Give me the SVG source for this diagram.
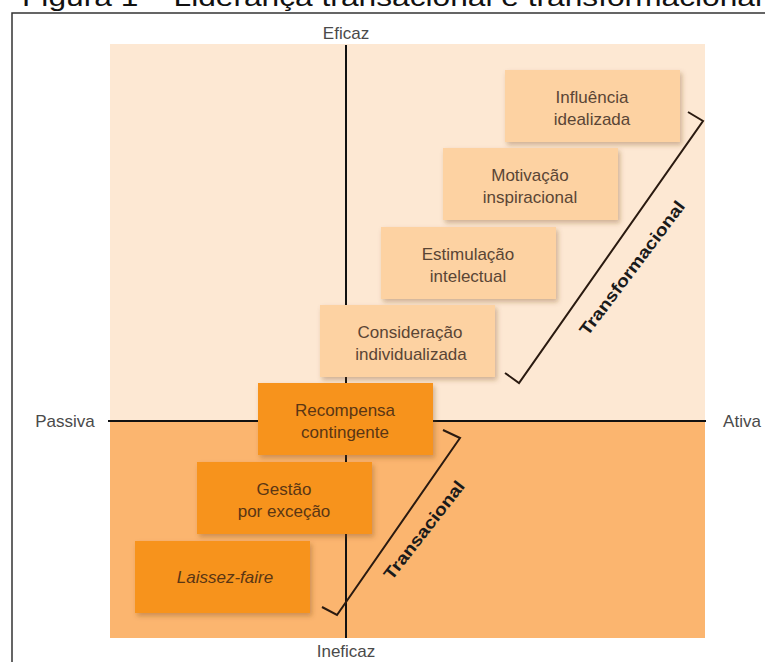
<svg xmlns="http://www.w3.org/2000/svg" width="765" height="662" viewBox="0 0 765 662">
<defs>
<style>
.lbl{font-family:"Liberation Sans",Arial,sans-serif;font-size:17px;fill:#4a4a4a;text-anchor:middle}
.bt{font-family:"Liberation Sans",Arial,sans-serif;font-size:17px;text-anchor:middle}
.top rect{fill:#fdd2a2;filter:url(#sh)}
.top text{fill:#5a4535}
.bot rect{fill:#f7931e;filter:url(#sh)}
.bot text{fill:#5a3614}
.br{fill:none;stroke:#2a1a10;stroke-width:2}
.brt{font-family:"Liberation Sans",Arial,sans-serif;font-size:17px;font-weight:bold;fill:#1a1a1a}
</style>
<filter id="sh" x="-10%" y="-10%" width="125%" height="130%">
<feDropShadow dx="2" dy="3" stdDeviation="2.5" flood-color="#7a4a1a" flood-opacity="0.35"/>
</filter>
</defs>
<rect width="765" height="662" fill="#ffffff"/>
<text x="22" y="6" font-family="'Liberation Sans',Arial,sans-serif" font-size="26" fill="#111" textLength="740" lengthAdjust="spacingAndGlyphs">Figura 1 – Liderança transacional e transformacional</text>
<path d="M12,662 V13 H765" fill="none" stroke="#333" stroke-width="1.5"/>
<rect x="110" y="44" width="595" height="377" fill="#fde8d3"/>
<rect x="110" y="421" width="595" height="217" fill="#fbb56f"/>
<line x1="108" y1="421" x2="706" y2="421" stroke="#111" stroke-width="2"/>
<line x1="346" y1="45" x2="346" y2="638" stroke="#111" stroke-width="2"/>
<text class="lbl" x="346" y="39">Eficaz</text>
<text class="lbl" x="65" y="427">Passiva</text>
<text class="lbl" x="742" y="427">Ativa</text>
<text class="lbl" x="346" y="657">Ineficaz</text>
<g id="influencia" class="top"><rect x="505" y="70" width="175" height="72"/><text class="bt" x="592" y="103">Influência</text><text class="bt" x="592" y="125">idealizada</text></g>
<g id="motivacao" class="top"><rect x="443" y="148" width="175" height="72"/><text class="bt" x="530" y="181">Motivação</text><text class="bt" x="530" y="203">inspiracional</text></g>
<g id="estimulacao" class="top"><rect x="381" y="227" width="175" height="72"/><text class="bt" x="468" y="260">Estimulação</text><text class="bt" x="468" y="282">intelectual</text></g>
<g id="consideracao" class="top"><rect x="320" y="305" width="175" height="72"/><text class="bt" x="410" y="338">Consideração</text><text class="bt" x="411" y="360">individualizada</text></g>
<g id="recompensa" class="bot"><rect x="258" y="383" width="175" height="72"/><text class="bt" x="345" y="416">Recompensa</text><text class="bt" x="345" y="438">contingente</text></g>
<g id="gestao" class="bot"><rect x="197" y="462" width="175" height="72"/><text class="bt" x="284" y="495">Gestão</text><text class="bt" x="284" y="517">por exceção</text></g>
<g id="laissez" class="bot"><rect x="135" y="541" width="175" height="72"/><text class="bt" x="225" y="583" font-style="italic">Laissez-faire</text></g>
<g id="connectors">
<path class="br" d="M688,112 L703,121 L519,383 L505,373"/>
<path class="br" d="M443,430 L460,438 L337,615 L322,607"/>
</g>
<g id="bracket-labels">
<text class="brt" transform="translate(632,268) rotate(-53)" x="0" y="6" text-anchor="middle" textLength="163" lengthAdjust="spacingAndGlyphs">Transformacional</text>
<text class="brt" transform="translate(424,530) rotate(-52)" x="0" y="6" text-anchor="middle" textLength="120" lengthAdjust="spacingAndGlyphs">Transacional</text>
</g>
</svg>
